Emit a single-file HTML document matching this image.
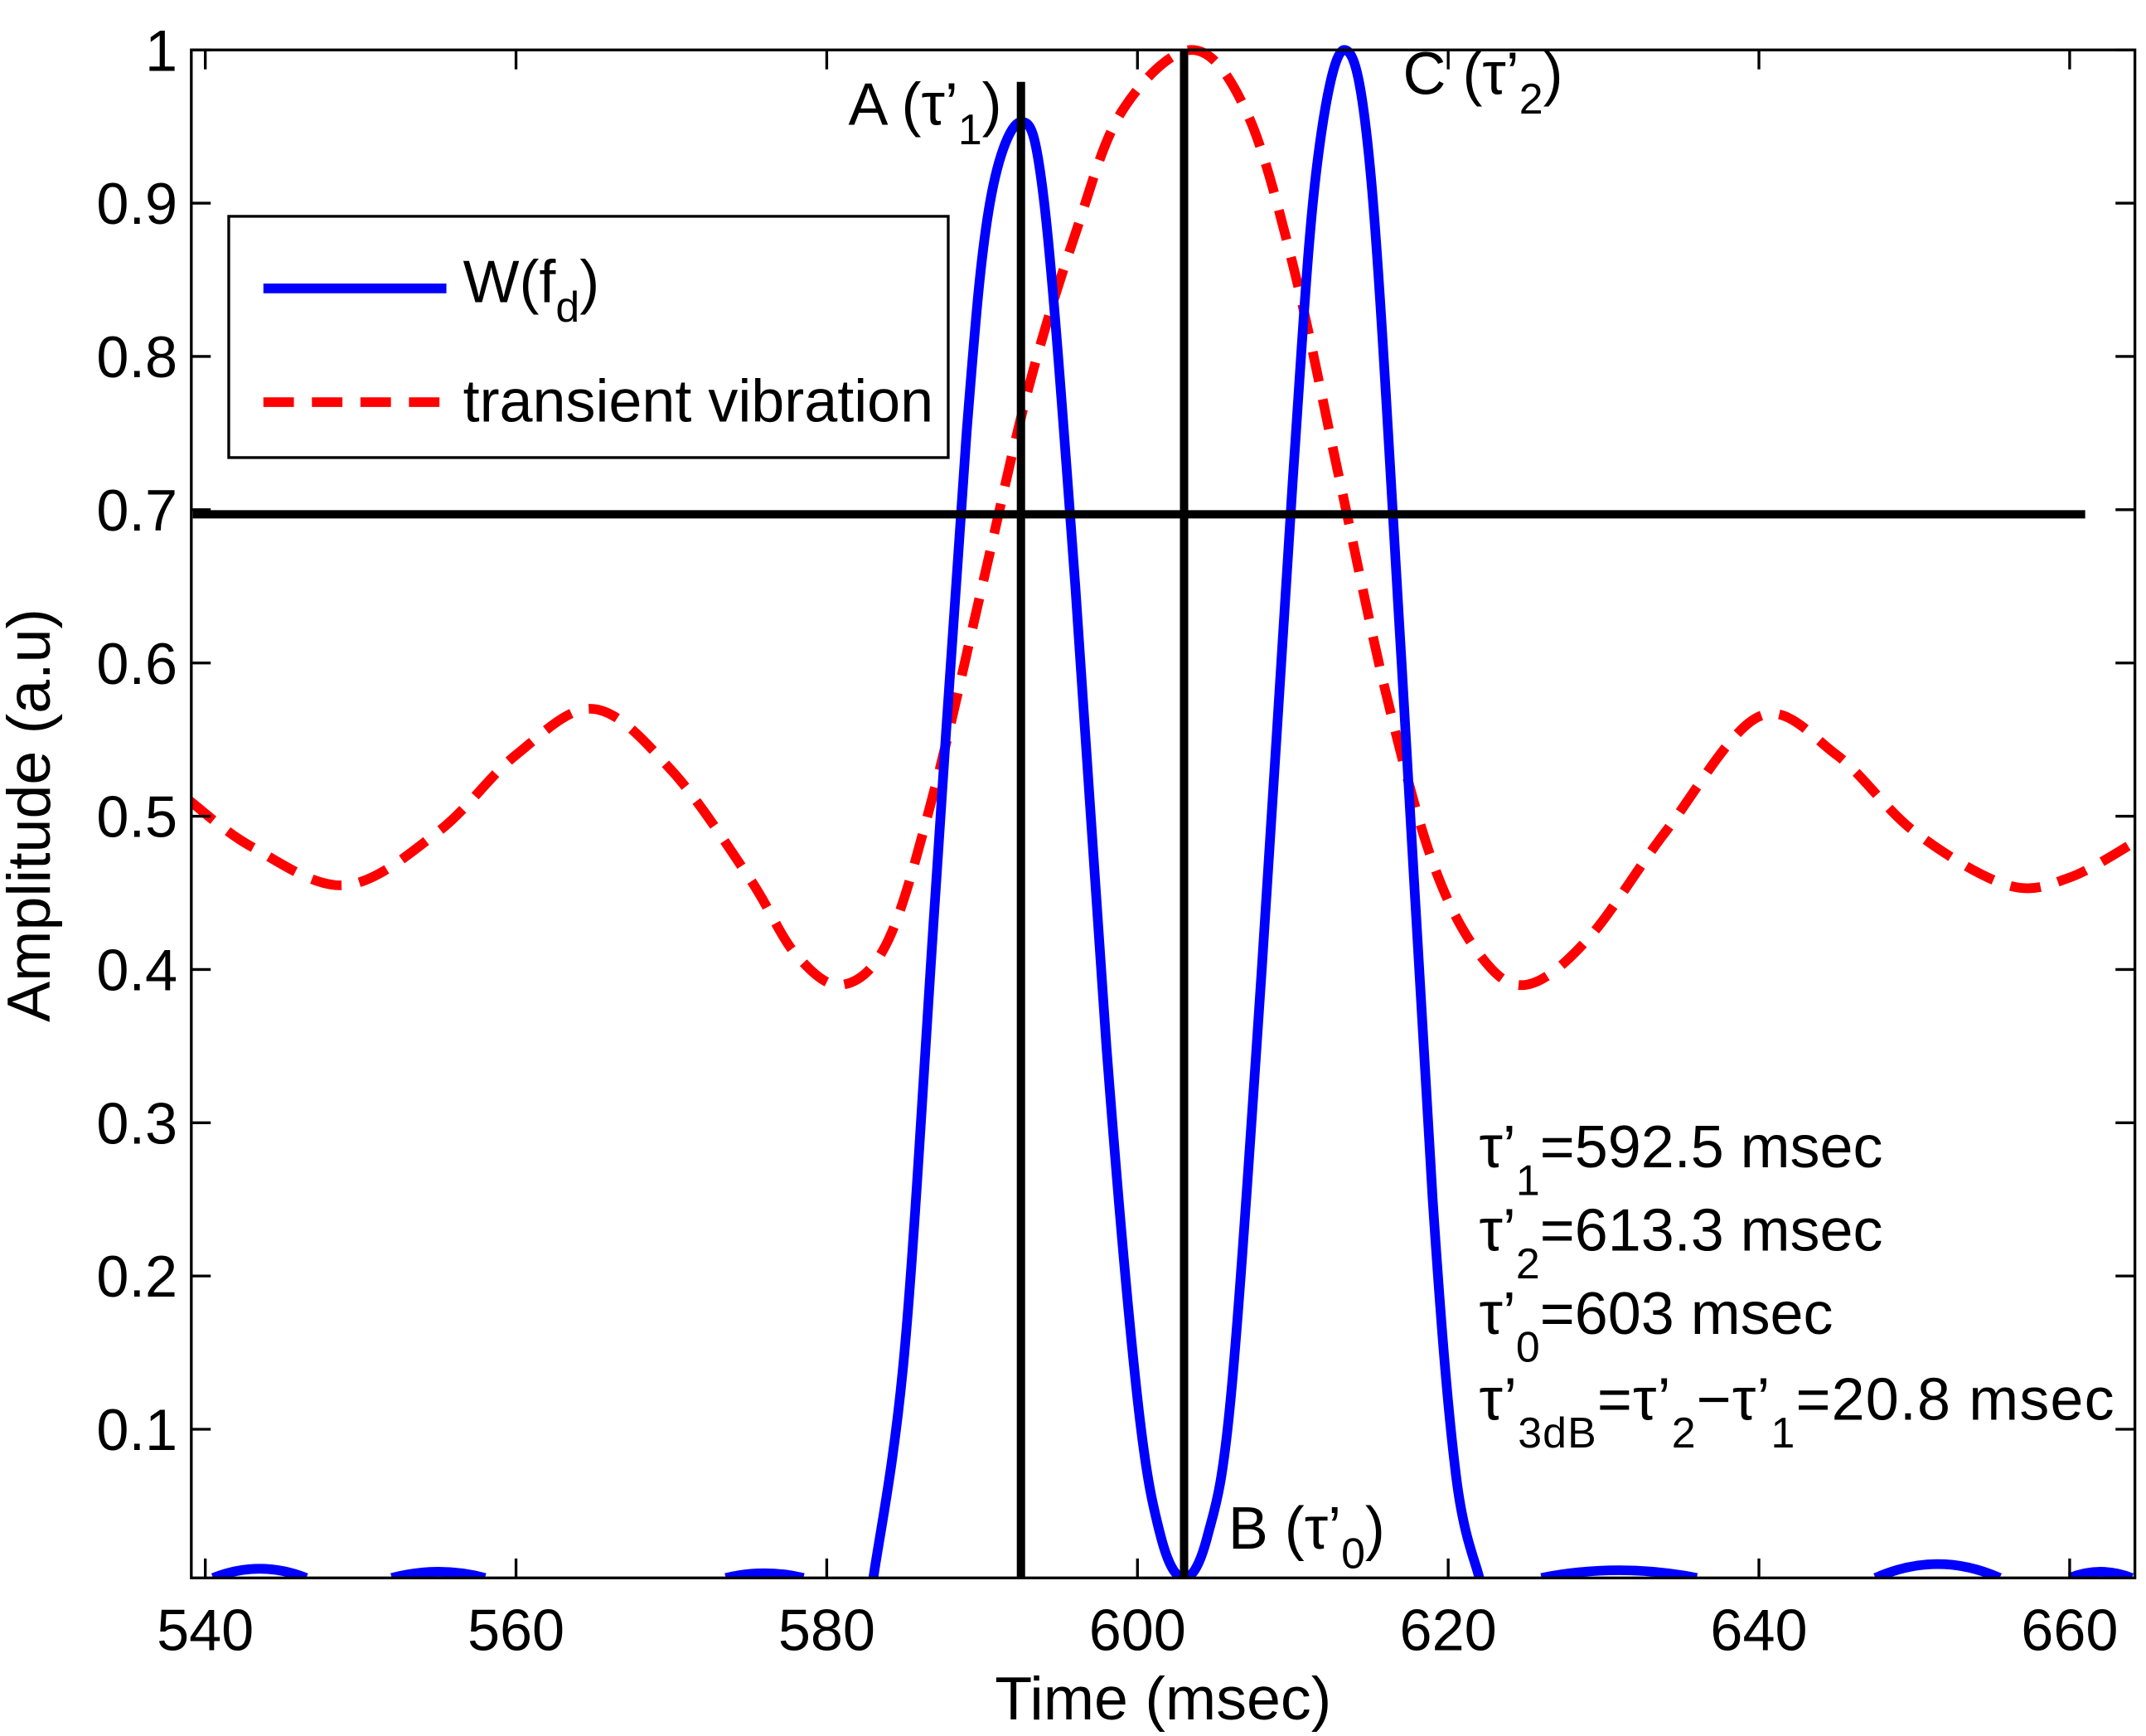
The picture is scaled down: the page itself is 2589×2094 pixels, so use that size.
<!DOCTYPE html>
<html><head><meta charset="utf-8"><style>
html,body{margin:0;padding:0;background:#fff;}
svg{display:block;font-family:"Liberation Sans",Arial,sans-serif;}
</style></head><body>
<svg id="chart" width="2589" height="2094" viewBox="0 0 1548 1252" xmlns="http://www.w3.org/2000/svg">
<rect width="1548" height="1252" fill="#fff"/>
<g id="plot"></g>
</svg>
<script>
const xTicks=[540,560,580,600,620,640,660];
const yTicks=[0.1,0.2,0.3,0.4,0.5,0.6,0.7,0.8,0.9,1];
const yTickLabels=["0.1","0.2","0.3","0.4","0.5","0.6","0.7","0.8","0.9","1"];
const wTime=[583,585,587,589,590.5,592.5,594,596,598,600,601.5,603,604.5,606,608,610,611.5,613.3,615,617,619,620.5,622];
const wValue=[0.003,0.15,0.45,0.75,0.9,0.953,0.9,0.65,0.35,0.12,0.03,0.003,0.03,0.12,0.4,0.72,0.92,1.0,0.92,0.6,0.25,0.07,0.003];
const bumpCenters=[543.5,555,576,631,651.5,662];
const bumpHeights=[0.006,0.004,0.003,0.005,0.009,0.004];
const bumpWidths=[3,3,2.5,5,4,2];
const vTime=[539,543,549,555,560,565,570,575,578,581,584,587,590,593,596,599,603.5,607,610,613,616,619,622,625,629,634,640,645,650,656,660,664.5];
const vValue=[0.51,0.48,0.455,0.49,0.54,0.57,0.53,0.46,0.41,0.39,0.42,0.52,0.65,0.78,0.88,0.96,1.0,0.96,0.86,0.72,0.58,0.47,0.41,0.39,0.42,0.49,0.565,0.54,0.49,0.455,0.46,0.485];
const markerTimes=[592.5,603];
const markerTops=[0.99,1.0];
const thresholdLevel=0.697;
const thresholdRange=[539.2,661];

const X0=138,X1=1540,Y0=36,Y1=1138;
const xMin=539.1,xMax=664.2,yMin=0.003,yMax=1.0;
const sx=t=>X0+(t-xMin)/(xMax-xMin)*(X1-X0);
const sy=v=>Y1-(v-yMin)/(yMax-yMin)*(Y1-Y0);
const NS="http://www.w3.org/2000/svg";
const g=document.getElementById('plot');
function mk(tag,attrs,parent){const e=document.createElementNS(NS,tag);for(const k in attrs)e.setAttribute(k,attrs[k]);(parent||g).appendChild(e);return e;}
function smooth(xs,ys){let p=[];for(let i=0;i<xs.length;i++)p.push([sx(xs[i]),sy(ys[i])]);let d="M"+p[0][0]+","+p[0][1];for(let i=0;i<p.length-1;i++){const a=p[Math.max(i-1,0)],b=p[i],c=p[i+1],e=p[Math.min(i+2,p.length-1)];d+=` C${b[0]+(c[0]-a[0])/6},${b[1]+(c[1]-a[1])/6} ${c[0]-(e[0]-b[0])/6},${c[1]-(e[1]-b[1])/6} ${c[0]},${c[1]}`;}return d;}

const defs=mk('defs',{});const cp=mk('clipPath',{id:'clip'},defs);mk('rect',{x:X0,y:Y0-4,width:X1-X0,height:Y1-Y0+4},cp);
const clipG=mk('g',{'clip-path':'url(#clip)'});

let e=mk('path',{d:smooth(vTime,vValue),fill:'none',stroke:'#ff0000','stroke-width':7,'stroke-dasharray':'22,13'},clipG);


e=mk('path',{d:smooth(wTime,wValue),fill:'none',stroke:'#0000ff','stroke-width':7,'stroke-linejoin':'round'},clipG);


for(let i=0;i<bumpCenters.length;i++){
 const c=bumpCenters[i],h=bumpHeights[i],w=bumpWidths[i];
 e=mk('path',{d:`M${sx(c-w)},${sy(0.003)} Q${sx(c)},${sy(0.003+2*h)} ${sx(c+w)},${sy(0.003)}`,fill:'none',stroke:'#0000ff','stroke-width':7},clipG);
 
 
}
for(let i=0;i<markerTimes.length;i++){
 e=mk('line',{x1:sx(markerTimes[i]),x2:sx(markerTimes[i]),y1:sy(yMin),y2:sy(markerTops[i])+ (i==0?12:0),stroke:'#000','stroke-width':6});
 
 
}
e=mk('line',{x1:sx(thresholdRange[0]),x2:sx(thresholdRange[1]),y1:sy(thresholdLevel),y2:sy(thresholdLevel),stroke:'#000','stroke-width':6});



e=mk('rect',{x:X0,y:Y0,width:X1-X0,height:Y1-Y0,fill:'none',stroke:'#000','stroke-width':2});


xTicks.forEach(t=>{const x=sx(t);mk('line',{x1:x,x2:x,y1:Y1,y2:Y1-14,stroke:'#000','stroke-width':2});mk('line',{x1:x,x2:x,y1:Y0,y2:Y0+14,stroke:'#000','stroke-width':2});
 const tx=mk('text',{x:x,y:Y1+52,'font-size':42,'text-anchor':'middle'});tx.textContent=t;
 
 });
yTicks.forEach((v,i)=>{const y=sy(v);mk('line',{x1:X0,x2:X0+14,y1:y,y2:y,stroke:'#000','stroke-width':2});mk('line',{x1:X1,x2:X1-14,y1:y,y2:y,stroke:'#000','stroke-width':2});
 const tx=mk('text',{x:X0-10,y:y+15,'font-size':42,'text-anchor':'end'});tx.textContent=yTickLabels[i];
 
 });
</script>
<svg style="position:absolute;left:0;top:0" width="2589" height="2094" viewBox="0 0 1548 1252" xmlns="http://www.w3.org/2000/svg" font-family="Liberation Sans, Arial, sans-serif">
<text x="839" y="1240" font-size="44" text-anchor="middle">Time (msec)</text>
<text transform="translate(36,588) rotate(-90)" font-size="44" text-anchor="middle">Amplitude (a.u)</text>
<g>
<rect x="165" y="156" width="519" height="174" fill="#fff" stroke="#000" stroke-width="2"/>
<line x1="190" y1="208" x2="322" y2="208" stroke="#0000ff" stroke-width="7"/>
<text x="334" y="218" font-size="43">W(f<tspan font-size="31" dy="14">d</tspan><tspan dy="-14">)</tspan></text>
<line x1="190" y1="290" x2="322" y2="290" stroke="#ff0000" stroke-width="7" stroke-dasharray="22,13"/>
<text x="334" y="304" font-size="43">transient vibration</text>
</g>
<text x="612" y="90" font-size="43">A (τ’<tspan font-size="31" dy="14">1</tspan><tspan dy="-14">)</tspan></text>
<text x="1012" y="68" font-size="43">C (τ’<tspan font-size="31" dy="14">2</tspan><tspan dy="-14">)</tspan></text>
<text x="886" y="1117" font-size="43">B (τ’<tspan font-size="31" dy="14">0</tspan><tspan dy="-14">)</tspan></text>
<g font-size="43">
<text x="1067" y="842">τ’<tspan font-size="31" dy="20">1</tspan><tspan dy="-20">=592.5 msec</tspan></text>
<text x="1067" y="902">τ’<tspan font-size="31" dy="20">2</tspan><tspan dy="-20">=613.3 msec</tspan></text>
<text x="1067" y="962">τ’<tspan font-size="31" dy="20">0</tspan><tspan dy="-20">=603 msec</tspan></text>
<text x="1067" y="1024" textLength="458">τ’<tspan font-size="31" dy="20">3dB</tspan><tspan dy="-20">=τ’</tspan><tspan font-size="31" dy="20">2</tspan><tspan dy="-20">−τ’</tspan><tspan font-size="31" dy="20">1</tspan><tspan dy="-20">=20.8 msec</tspan></text>
</g>
</svg>
</body></html>
